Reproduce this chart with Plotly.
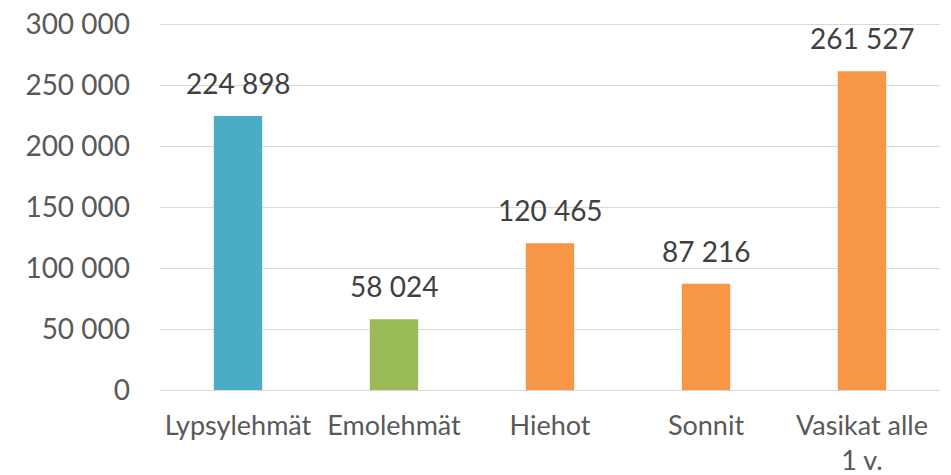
import plotly.graph_objects as go

categories = ["Lypsylehmät", "Emolehmät", "Hiehot", "Sonnit", "Vasikat alle 1 v."]
category_labels = ["Lypsylehmät", "Emolehmät", "Hiehot", "Sonnit", "Vasikat alle<br>1 v."]
values = [224898, 58024, 120465, 87216, 261527]
value_labels = ["224 898", "58 024", "120 465", "87 216", "261 527"]
colors = ["#4BACC6", "#9BBB59", "#F79646", "#F79646", "#F79646"]
tick_values = [0, 50000, 100000, 150000, 200000, 250000, 300000]
tick_labels = ["0", "50 000", "100 000", "150 000", "200 000", "250 000", "300 000"]

FONT = "Lato"

fig = go.Figure()
fig.add_trace(go.Bar(
    x=categories, y=values, marker=dict(color=colors, line=dict(width=0)),
    width=0.31, hoverinfo="skip", cliponaxis=False,
))
for c, v, t in zip(categories, values, value_labels):
    fig.add_annotation(x=c, y=v, text=t, showarrow=False, yanchor="bottom",
                       yshift=14, font=dict(family=FONT, size=28, color="#404040"))

fig.update_layout(
    width=951, height=475,
    margin=dict(l=160, r=11, t=22, b=85, autoexpand=False),
    paper_bgcolor="white", plot_bgcolor="white",
    showlegend=False,
    font=dict(family=FONT),
)
fig.update_xaxes(
    tickvals=categories, ticktext=category_labels,
    tickfont=dict(family=FONT, size=27, color="#595959"),
    showgrid=False, showline=False, zeroline=False, automargin=False,
    ticks="", ticklabelstandoff=17,
)
fig.update_yaxes(
    range=[0, 302000], tickvals=tick_values, ticktext=tick_labels,
    tickfont=dict(family=FONT, size=28, color="#595959"),
    showgrid=True, gridcolor="#D9D9D9", gridwidth=1, automargin=False,
    zeroline=True, zerolinecolor="#D9D9D9", zerolinewidth=1,
    showline=False, ticks="", ticklabelstandoff=29,
    ticklabeloverflow="allow",
)

fig.write_html("out.html", config={"displayModeBar": False},
               post_script="document.body.style.margin='0';")
